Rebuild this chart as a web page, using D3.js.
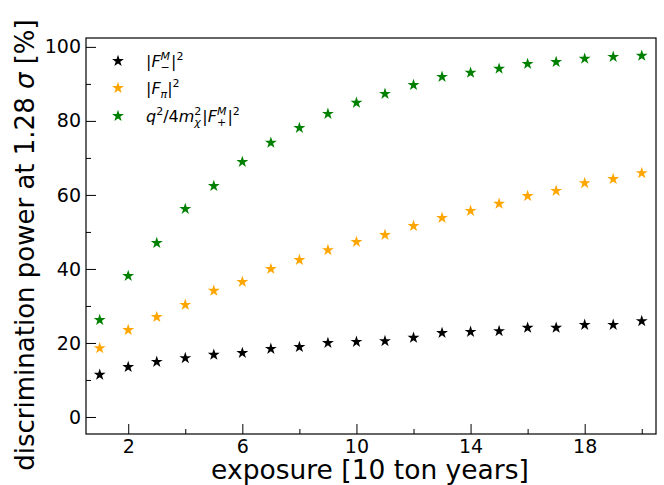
<!DOCTYPE html>
<html><head><meta charset="utf-8">
<script src="https://cdn.jsdelivr.net/npm/d3@7"></script>
<style>body{margin:0;background:#fff;} svg{display:block;} text{font-family:"DejaVu Sans",sans-serif;}</style>
</head><body><svg id="c" width="664" height="485"></svg>
<script>
const exposure = [1,2,3,4,5,6,7,8,9,10,11,12,13,14,15,16,17,18,19,20];
const fMinus = [11.4,13.5,14.9,15.9,16.8,17.3,18.4,18.9,20.0,20.3,20.5,21.4,22.7,23.0,23.2,24.1,24.1,24.9,24.9,25.9];
const fPi = [18.6,23.5,27.0,30.3,34.1,36.5,40.0,42.4,45.1,47.3,49.2,51.6,53.8,55.7,57.6,59.7,61.1,63.2,64.3,65.9];
const fPlus = [26.2,38.1,47.0,56.2,62.4,68.9,74.1,78.1,81.9,84.9,87.3,89.7,91.9,93.0,94.1,95.4,95.9,96.8,97.3,97.6];
const xMajor = [2,6,10,14,18];
const xMinor = [4,8,12,16,20];
const yMajor = [0,20,40,60,80,100];
const yMinor = [10,30,50,70,90];
const seriesColors = ["#000000","#ffa500","#008000"];

const svg = d3.select("#c");
const L=86,R=656,T=38,B=434;
const x = d3.scaleLinear().domain([0.52,20.5]).range([L,R]);
const y = d3.scaleLinear().domain([-4.6,102.4]).range([B,T]);

const gx = svg.append("g").attr("transform",`translate(0,${B})`);
gx.call(d3.axisBottom(x).tickValues(xMajor).tickSizeInner(-10).tickSizeOuter(0).tickPadding(6).tickFormat(d3.format("d")));
gx.append("g").call(d3.axisBottom(x).tickValues(xMinor).tickSizeInner(-5).tickSizeOuter(0).tickFormat(""));
const gy = svg.append("g").attr("transform",`translate(${L},0)`);
gy.call(d3.axisLeft(y).tickValues(yMajor).tickSizeInner(-10).tickSizeOuter(0).tickPadding(5).tickFormat(d3.format("d")));
gy.append("g").call(d3.axisLeft(y).tickValues(yMinor).tickSizeInner(-5).tickSizeOuter(0).tickFormat(""));
svg.selectAll(".domain").remove();
svg.selectAll(".tick line").attr("stroke","#000").attr("stroke-width",1);
svg.selectAll(".tick text").attr("font-size",19).attr("fill","#000").attr("font-family","DejaVu Sans");

svg.append("rect").attr("x",L).attr("y",T).attr("width",R-L).attr("height",B-T)
  .attr("fill","none").attr("stroke","#000").attr("stroke-width",1.2);

const star = d3.symbol().type(d3.symbolStar).size(44);
const series = [fMinus,fPi,fPlus];
series.forEach((vals,i)=>{
  svg.append("g").selectAll("path").data(vals).enter().append("path")
    .attr("d",star).attr("transform",(d,j)=>`translate(${x(exposure[j])},${y(d)})`)
    .attr("fill",seriesColors[i]);
});

// legend
const lg = svg.append("g");
const ly = [61,88,116];
ly.forEach((yy,i)=>{
  lg.append("path").attr("d",star).attr("transform",`translate(118,${yy})`).attr("fill",seriesColors[i]);
});
function addText(yy, parts){
  const t = lg.append("text").attr("x",146).attr("y",yy+6).attr("font-size",16).attr("fill","#000");
  let prevSup = null;
  parts.forEach(p=>{
    const s = t.append("tspan").text(p.t);
    if(p.i) s.attr("font-style","italic");
    if(p.sh){ s.attr("baseline-shift",p.sh).attr("font-size",11); }
    if(p.under && prevSup){
      const w = prevSup.node().getComputedTextLength();
      s.attr("dx",-w);
      p._supW = w; p._node = s;
    }
    if(p.after){
      const prev = parts[parts.indexOf(p)-1];
      const sw = prev._node.node().getComputedTextLength();
      s.attr("dx",Math.max(0,prev._supW - sw)+1);
    }
    prevSup = s;
  });
}
addText(ly[0],[{t:"|"},{t:"F",i:1},{t:"M",i:1,sh:"7"},{t:"\u2212",sh:"-4",under:1},{t:"|",after:1},{t:"2",sh:"7"}]);
addText(ly[1],[{t:"|"},{t:"F",i:1},{t:"\u03c0",i:1,sh:"-4"},{t:"|"},{t:"2",sh:"7"}]);
addText(ly[2],[{t:"q",i:1},{t:"2",sh:"7"},{t:"/4"},{t:"m",i:1},{t:"2",sh:"7"},{t:"\u03c7",i:1,sh:"-4",under:1},{t:"|",after:1},{t:"F",i:1},{t:"M",i:1,sh:"7"},{t:"+",sh:"-4",under:1},{t:"|",after:1},{t:"2",sh:"7"}]);

svg.append("text").attr("x",(L+R)/2-1).attr("y",479).attr("text-anchor","middle").attr("font-size",26.5).text("exposure [10 ton years]");
svg.append("text").attr("transform",`translate(34,245) rotate(-90)`).attr("text-anchor","middle").attr("font-size",26)
  .html('discrimination power at 1.28 <tspan font-style="italic">σ</tspan> [%]');
</script></body></html>
